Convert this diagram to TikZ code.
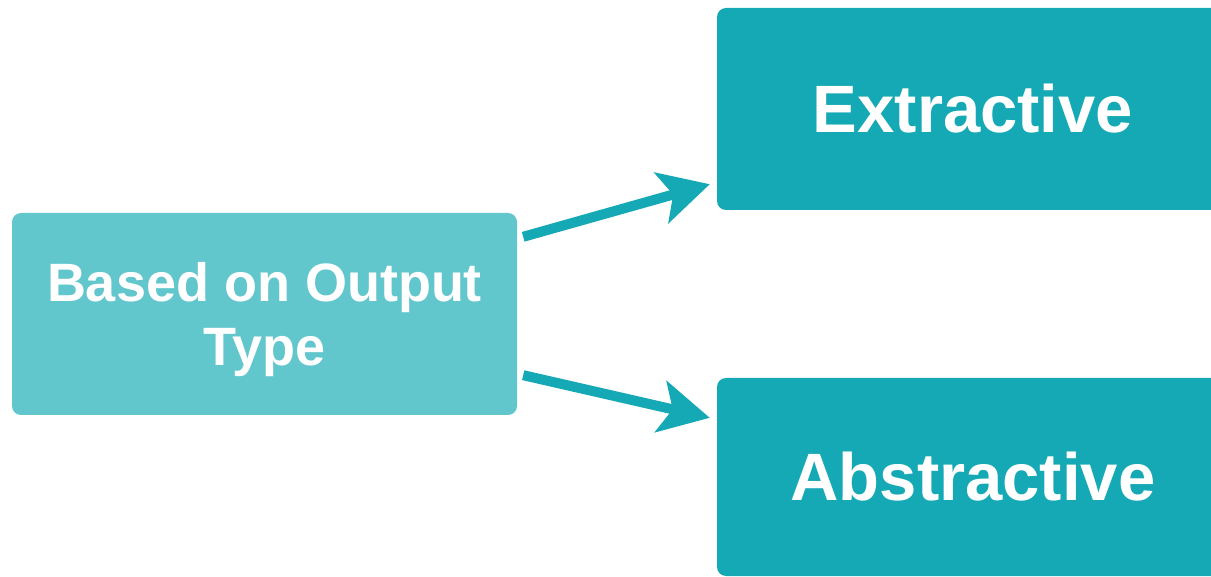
\documentclass[tikz,border=0pt]{standalone}
\usepackage{fontspec}
\setmainfont{Liberation Sans}
\usetikzlibrary{arrows.meta,calc}
\definecolor{lightteal}{HTML}{62C6CD}
\definecolor{darkteal}{HTML}{14A9B5}
\tikzset{
  boxstyle/.style={rectangle, rounded corners=9pt, inner sep=0pt, text=white, font=\bfseries},
  srcbox/.style={boxstyle, fill=lightteal, minimum width=505pt, minimum height=202pt},
  srctext/.style={text=white, align=center, inner sep=0pt, font=\bfseries\fontsize{54}{64}\selectfont},
  dstbox/.style={boxstyle, fill=darkteal, minimum width=512pt, font=\bfseries\fontsize{67}{80}\selectfont},
  conn/.style={draw=darkteal, line width=10pt, -{Stealth[length=50pt,width=52pt,inset=12pt]}}
}
\begin{document}
\begin{tikzpicture}[x=1pt,y=-1pt]
\useasboundingbox (0,0) rectangle (1211,577);
\begin{scope}
\clip (0,0) rectangle (1211,577);
\node[srcbox] (src) at (264.5,314) {};
\node[srctext] (srclabel) at ($(src.center)+(0,6)$) {Based on Output\\Type};
\node[dstbox, minimum height=202pt] (ext) at (973,109) {Extractive};
\node[dstbox, minimum height=198pt] (abs) at (973,477) {Abstractive};
\end{scope}
\draw[conn] ($(src.north east)+(6,24)$) -- ($(ext.south west)+(-7,-26)$);
\draw[conn] ($(src.south east)+(6,-40)$) -- ($(abs.north west)+(-7,40)$);
\end{tikzpicture}
\end{document}
